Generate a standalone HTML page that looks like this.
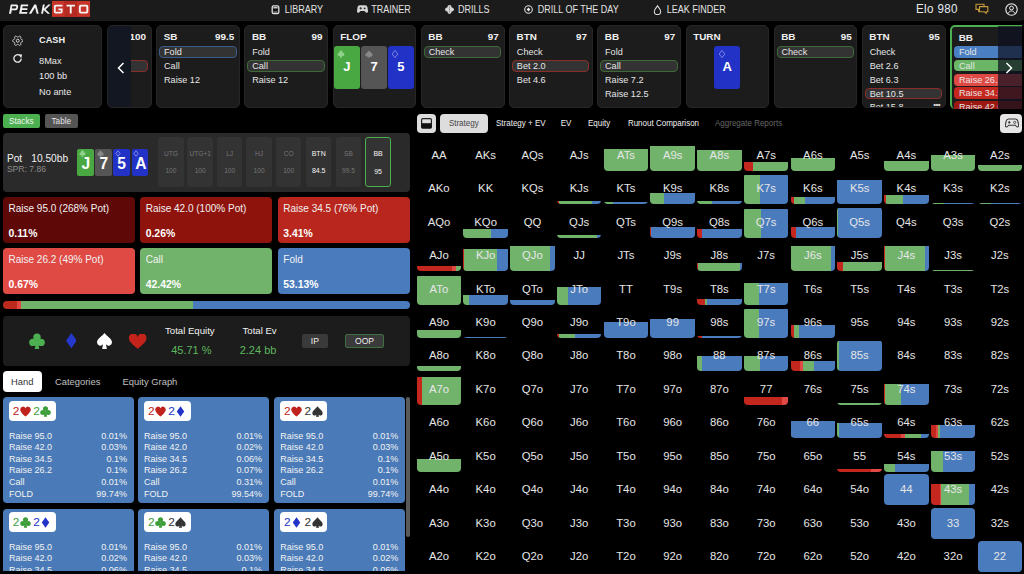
<!DOCTYPE html>
<html><head><meta charset="utf-8">
<style>
*{margin:0;padding:0;box-sizing:border-box}
html,body{width:1024px;height:574px;overflow:hidden;background:#000;font-family:"Liberation Sans",sans-serif;color:#e8e8e8}
.a{position:absolute}
#nav{position:absolute;left:0;top:0;width:1024px;height:21px;background:#1b1b1b}
.ni{position:absolute;top:0;height:20px;line-height:20px;font-size:9px;color:#e4e4e4;letter-spacing:0px;white-space:nowrap}
.ni svg{position:absolute;top:5px}
.ni span{display:inline-block;transform:scaleY(1.18);transform-origin:50% 55%}
.card{position:absolute;top:25.3px;width:83.8px;height:83px;background:#1c1c1c;border:1px solid #262626;border-radius:5px;overflow:hidden}
.hd{position:absolute;top:4.4px;left:6.5px;right:4.8px;height:12px;font-size:9.9px;font-weight:bold;line-height:12px;color:#f0f0f0}
.hd b{position:absolute;right:0;top:0}
.rw{position:absolute;left:2px;right:2.5px;height:11.8px;line-height:10.6px;font-size:9.1px;color:#e6e6e6;padding-left:3.8px;border:1px solid transparent;border-radius:4px;white-space:nowrap}
.pb{background:#333;border-color:#3b5d8e}
.pg{background:#333;border-color:#3c6b38}
.pr{background:#333;border-color:#8a2e2a}
.pc{position:absolute;top:20px;width:26px;height:42.3px;border-radius:3px;color:#fff;font-weight:bold;font-size:13px;text-align:center;line-height:42px}
.pc svg{position:absolute;left:3.5px;top:4px}
/* grid */
.c{position:absolute;width:44.5px;height:31.1px;border-radius:4px;overflow:hidden}
.c .f{position:absolute;left:0;right:0;bottom:0;display:flex}
.c .f i{display:block;height:100%}
.c span{position:absolute;left:0;right:0;top:0;height:31.1px;line-height:31px;text-align:center;font-size:11.3px;color:#e6e6e6}
/* tabs */
.tb{position:absolute;top:113.6px;height:19.3px;line-height:19px;font-size:8px;color:#f0f0f0;white-space:nowrap;transform:scaleY(1.1)}
/* left */
.sb{position:absolute;border-radius:4px}
.sb .t{position:absolute;left:5.8px;top:6.3px;font-size:10px;color:#f2f2f2;white-space:nowrap}
.sb .p{position:absolute;left:5.8px;top:31.5px;font-size:10.4px;font-weight:bold;color:#fff}
.pos{position:absolute;top:137.2px;width:25.6px;height:50.3px;background:#333;border-radius:3px;text-align:center;color:#767676;font-size:6.6px}
.pos u{text-decoration:none;position:absolute;left:0;right:0;top:12.5px}
.pos s{text-decoration:none;position:absolute;left:0;right:0;top:30.3px}
.hc{position:absolute;width:131px;height:105.6px;background:#4a7bb8;border-radius:4px;font-size:9px;color:#f2f2f2}
.hc .bd{position:absolute;left:5.9px;top:3.6px;width:47.2px;height:20px;background:#fff;border-radius:4px;font-size:11.8px;line-height:20.5px;white-space:nowrap}
.hc .ln{position:absolute;left:6px;right:7px;height:11px;line-height:11px}
.hc .ln b{font-weight:normal;position:absolute;right:0;top:0}
</style></head><body>
<div id="nav">
  <svg class="a" style="left:0;top:0" width="96" height="21" viewBox="0 0 96 21">
    <path fill="#f2f2f2" fill-rule="evenodd" d="M9 13.7L10.8 4.5H16.3C17.8 4.5 18.4 5.5 18.1 6.9L17.8 8.3C17.5 9.7 16.5 10.3 15.2 10.3H11.8L11.1 13.7ZM12.2 6.2L11.7 8.6H15.3C15.9 8.6 16.1 8.3 16.2 7.8L16.3 7C16.4 6.5 16.2 6.2 15.7 6.2Z"/>
    <path fill="#f2f2f2" d="M20.9 4.5H28.3L28 6.2H22.6L22.3 8.3H27.5L27.2 9.9H22L21.6 12H27.4L27.1 13.7H19.1Z"/>
    <path fill="#f2f2f2" d="M28.9 13.7L34.3 4.5H36.2L38.7 13.7H36.7L35.1 7.6L31.2 13.7Z"/>
    <path fill="#f2f2f2" d="M41.1 13.7L42.9 4.5H44.8L43 13.7ZM43.3 9.3L48.4 4.5H50.8L45.3 9.8ZM44.6 8.6L50.1 13.7H47.7L43.6 10.1Z"/>
    <rect x="52" y="0.9" width="38" height="16" fill="#c8342a"/>
    <rect x="64.2" y="0.9" width="13.1" height="16" fill="#b52b21"/>
    <path fill="#f4f4f4" fill-rule="evenodd" d="M55.9 4.7H62.5V6.5H56.3C55.9 6.5 55.7 6.7 55.7 7.1V11.2C55.7 11.6 55.9 11.8 56.3 11.8H60.2C60.6 11.8 60.8 11.6 60.8 11.2V10.3H58.4V8.6H62.6V11.6C62.6 12.8 61.9 13.6 60.7 13.6H55.8C54.6 13.6 53.9 12.8 53.9 11.6V6.7C53.9 5.5 54.6 4.7 55.9 4.7Z"/>
    <path fill="#f4f4f4" d="M66.5 4.7H75V6.5H71.7V13.6H69.8V6.5H66.5Z"/>
    <path fill="#f4f4f4" fill-rule="evenodd" d="M80.9 4.7H86.3C87.5 4.7 88.3 5.5 88.3 6.7V11.6C88.3 12.8 87.5 13.6 86.3 13.6H80.9C79.7 13.6 78.9 12.8 78.9 11.6V6.7C78.9 5.5 79.7 4.7 80.9 4.7ZM81.4 6.5C81 6.5 80.8 6.7 80.8 7.1V11.2C80.8 11.6 81 11.8 81.4 11.8H85.8C86.2 11.8 86.4 11.6 86.4 11.2V7.1C86.4 6.7 86.2 6.5 85.8 6.5Z"/>
  </svg>
  <div class="ni" style="left:271px"><svg width="9" height="10" viewBox="0 0 9 10" style="top:4.6px"><rect x="1.2" y="0.9" width="6.6" height="7.8" rx="1.4" fill="none" stroke="#e0e0e0" stroke-width="1.3"/><rect x="2.4" y="3.4" width="4.2" height="2.4" fill="#111"/><rect x="2.4" y="2.1" width="4.2" height="1.3" fill="#e0e0e0"/><rect x="2.4" y="6.6" width="4.2" height="0.9" fill="#bbb"/></svg><span style="position:absolute;left:13.7px">LIBRARY</span></div>
  <div class="ni" style="left:357px"><svg width="11" height="9" viewBox="0 0 11 9" style="top:4.9px"><path d="M2.8 .3h5.4c1.3 0 2 .8 2.3 2.1l.5 3.6c.2 1.6-1.4 2.4-2.4 1.3L7.5 6.1h-4L2.4 7.3C1.4 8.4-.2 7.6 0 6l.5-3.6C.8 1.1 1.5.3 2.8.3z" fill="#d4d4d4"/><path d="M2.6 3.3h2.2M3.7 2.2v2.2" stroke="#222" stroke-width=".9"/><circle cx="7.6" cy="3.3" r=".9" fill="#222"/></svg><span style="position:absolute;left:14.3px">TRAINER</span></div>
  <div class="ni" style="left:444.6px"><svg width="9" height="9" viewBox="0 0 9 9" style="top:4.6px"><circle cx="4.5" cy="2.2" r="2.1" fill="#d8d8d8"/><circle cx="4.5" cy="6.8" r="2.1" fill="#d8d8d8"/><circle cx="2.2" cy="4.5" r="2.1" fill="#d8d8d8"/><circle cx="6.8" cy="4.5" r="2.1" fill="#d8d8d8"/><rect x="4.2" y="1.2" width=".7" height="6.6" fill="#888"/></svg><span style="position:absolute;left:13.4px">DRILLS</span></div>
  <div class="ni" style="left:523.7px"><svg width="9" height="9" viewBox="0 0 9 9"><circle cx="4.5" cy="4.5" r="3.8" fill="none" stroke="#ddd" stroke-width="1.1"/><path d="M4.5 2.5L6.3 4.5 4.5 6.5 2.7 4.5z" fill="#eee"/></svg><span style="position:absolute;left:14.1px">DRILL OF THE DAY</span></div>
  <div class="ni" style="left:653px"><svg width="9" height="10" viewBox="0 0 9 10" style="top:4.5px"><path d="M4.5 .8C3 2.8 1.3 4.6 1.3 6.4a3.2 3.2 0 0 0 6.4 0C7.7 4.6 6 2.8 4.5 .8z" fill="none" stroke="#ddd" stroke-width="1.1"/></svg><span style="position:absolute;left:13.7px">LEAK FINDER</span></div>
  <div class="a" style="left:916px;top:1.6px;font-size:11.6px;line-height:14px;color:#eaeaea;letter-spacing:0.35px;transform:scaleY(1.05)">Elo <span style="color:#e4eaf2">980</span></div>
  <svg class="a" style="left:975px;top:3px" width="14" height="11" viewBox="0 0 14 11"><path d="M1 1.2h8v5.2H5.5L3.6 8.2V6.4H1z" fill="none" stroke="#c79a3a" stroke-width="1.1"/><path d="M4.5 3.6h8.3v5.2h-1.6v1.6L9.4 8.8H4.5z" fill="#1b1b1b" stroke="#c79a3a" stroke-width="1.1"/></svg>
  <svg class="a" style="left:1004.5px;top:2.5px" width="13" height="13" viewBox="0 0 13 13"><circle cx="6.5" cy="6.5" r="5.7" fill="none" stroke="#eee" stroke-width="1.1"/><circle cx="6.5" cy="5" r="1.9" fill="none" stroke="#eee" stroke-width="1"/><path d="M3 10.5c1-1.8 2.1-2.5 3.5-2.5s2.5.7 3.5 2.5" fill="none" stroke="#eee" stroke-width="1"/></svg>
</div>

<!-- action strip -->
<div class="card" style="left:2.6px;width:99.4px">
  <svg class="a" style="left:8.2px;top:8.6px" width="11.5" height="11.5" viewBox="0 0 11.5 11.5"><path d="M5.75 2.15 L5.99 2.12 L6.24 2.04 L6.52 1.90 L6.88 1.55 L7.28 1.23 L7.65 1.17 L7.99 1.21 L8.30 1.33 L8.56 1.54 L8.77 1.82 L8.90 2.16 L8.83 2.67 L8.70 3.16 L8.72 3.47 L8.77 3.73 L8.87 3.95 L9.01 4.14 L9.21 4.32 L9.47 4.49 L9.95 4.62 L10.43 4.82 L10.67 5.10 L10.80 5.42 L10.85 5.75 L10.80 6.08 L10.67 6.40 L10.43 6.68 L9.95 6.88 L9.47 7.01 L9.21 7.18 L9.01 7.36 L8.87 7.55 L8.77 7.77 L8.72 8.03 L8.70 8.34 L8.83 8.83 L8.90 9.34 L8.77 9.68 L8.56 9.96 L8.30 10.17 L7.99 10.29 L7.65 10.33 L7.28 10.27 L6.88 9.95 L6.52 9.60 L6.24 9.46 L5.99 9.38 L5.75 9.35 L5.51 9.38 L5.26 9.46 L4.98 9.60 L4.62 9.95 L4.22 10.27 L3.85 10.33 L3.51 10.29 L3.20 10.17 L2.94 9.96 L2.73 9.68 L2.60 9.34 L2.67 8.83 L2.80 8.34 L2.78 8.03 L2.73 7.77 L2.63 7.55 L2.49 7.36 L2.29 7.18 L2.03 7.01 L1.55 6.88 L1.07 6.68 L0.83 6.40 L0.70 6.08 L0.65 5.75 L0.70 5.42 L0.83 5.10 L1.07 4.82 L1.55 4.62 L2.03 4.49 L2.29 4.32 L2.49 4.14 L2.63 3.95 L2.73 3.73 L2.78 3.47 L2.80 3.16 L2.67 2.67 L2.60 2.16 L2.73 1.82 L2.94 1.54 L3.20 1.33 L3.51 1.21 L3.85 1.17 L4.22 1.23 L4.62 1.55 L4.98 1.90 L5.26 2.04 L5.51 2.12 L5.75 2.15Z" fill="none" stroke="#ddd" stroke-width="0.95" stroke-linejoin="round"/><circle cx="5.75" cy="5.75" r="1.5" fill="none" stroke="#ddd" stroke-width="0.95"/></svg>
  <svg class="a" style="left:9px;top:27.3px" width="10" height="9" viewBox="0 0 10 9"><path d="M8.3 4.6A3.7 3.7 0 1 1 6.6 1.3" fill="none" stroke="#e6e6e6" stroke-width="1.3"/><path d="M5.2 0.2L9.2 0.6 8.2 4.2z" fill="#e6e6e6"/></svg>
  <div class="a" style="left:35.5px;top:9px;font-size:9.2px;font-weight:bold;color:#f0f0f0">CASH</div>
  <div class="a" style="left:35.5px;top:30px;font-size:9.2px;color:#eaeaea">8Max</div>
  <div class="a" style="left:35.5px;top:45px;font-size:9.2px;color:#eaeaea">100 bb</div>
  <div class="a" style="left:35.5px;top:60.5px;font-size:9.2px;color:#eaeaea">No ante</div>
</div>
<div class="card" style="left:106.6px;width:45.1px">
  <div class="hd"><b>100</b></div>
  <div class="rw pr" style="top:33.5px"></div>
  <div class="a" style="left:0;top:0;width:23.2px;height:83px;background:#131722"></div>
  <svg class="a" style="left:9.5px;top:35.5px" width="8" height="12" viewBox="0 0 8 12"><path d="M6.5 1L1.5 6l5 5" fill="none" stroke="#fff" stroke-width="1.5"/></svg>
</div>
<div class="card" style="left:156.25px">
  <div class="hd">SB<b>99.5</b></div>
  <div class="rw pb" style="top:19.5px">Fold</div>
  <div class="rw" style="top:33.5px">Call</div>
  <div class="rw" style="top:47.4px">Raise 12</div>
</div>
<div class="card" style="left:244.45px">
  <div class="hd">BB<b>99</b></div>
  <div class="rw" style="top:19.5px">Fold</div>
  <div class="rw pg" style="top:33.5px">Call</div>
  <div class="rw" style="top:47.4px">Raise 12</div>
</div>
<div class="card" style="left:332.65px">
  <div class="hd">FLOP</div>
  <div class="pc" style="left:0.3px;background:#4aa843"><svg width="8" height="8" viewBox="0 0 10 10"><path d="M5 .5a2 2 0 0 1 1.8 2.9A2.1 2.1 0 1 1 6 7.2L6.6 9.5H3.4L4 7.2A2.1 2.1 0 1 1 3.2 3.4 2 2 0 0 1 5 .5z" fill="#8fd18a"/></svg>J</div>
  <div class="pc" style="left:27.6px;background:#555"><svg width="8" height="8" viewBox="0 0 10 10"><path d="M5 .5C6.5 2.5 9.5 4 9.5 6.3a2.1 2.1 0 0 1-3.6 1.4L6.6 9.5H3.4l.7-1.8A2.1 2.1 0 0 1 .5 6.3C.5 4 3.5 2.5 5 .5z" fill="#888"/></svg>7</div>
  <div class="pc" style="left:54.2px;background:#2232c6"><svg width="8" height="8" viewBox="0 0 10 10"><path d="M5 .5L8.5 5 5 9.5 1.5 5z" fill="none" stroke="#8f98e8" stroke-width="1"/></svg>5</div>
</div>
<div class="card" style="left:420.85px">
  <div class="hd">BB<b>97</b></div>
  <div class="rw pg" style="top:19.5px">Check</div>
</div>
<div class="card" style="left:509.05px">
  <div class="hd">BTN<b>97</b></div>
  <div class="rw" style="top:19.5px">Check</div>
  <div class="rw pr" style="top:33.5px">Bet 2.0</div>
  <div class="rw" style="top:47.4px">Bet 4.6</div>
</div>
<div class="card" style="left:597.25px">
  <div class="hd">BB<b>97</b></div>
  <div class="rw" style="top:19.5px">Fold</div>
  <div class="rw pg" style="top:33.5px">Call</div>
  <div class="rw" style="top:47.4px">Raise 7.2</div>
  <div class="rw" style="top:61.3px">Raise 12.5</div>
</div>
<div class="card" style="left:685.7px">
  <div class="hd">TURN</div>
  <div class="pc" style="left:27.6px;background:#2232c6"><svg width="8" height="8" viewBox="0 0 10 10"><path d="M5 .5L8.5 5 5 9.5 1.5 5z" fill="none" stroke="#8f98e8" stroke-width="1"/></svg>A</div>
</div>
<div class="card" style="left:773.65px">
  <div class="hd">BB<b>95</b></div>
  <div class="rw pg" style="top:19.5px">Check</div>
</div>
<div class="card" style="left:861.85px">
  <div class="hd">BTN<b>95</b></div>
  <div class="rw" style="top:19.5px">Check</div>
  <div class="rw" style="top:33.5px">Bet 2.6</div>
  <div class="rw" style="top:47.4px">Bet 6.3</div>
  <div class="rw pr" style="top:61.3px">Bet 10.5</div>
  <div class="rw" style="top:75.2px">Bet 15.8</div>
  <div class="a" style="right:4.5px;top:74px;font-size:8px;font-weight:bold;color:#ddd;letter-spacing:-0.5px">•••</div>
</div>
<div class="card" style="left:950.2px;width:90px;height:83.7px;border:2px solid #4caf50;border-bottom:none;border-radius:5px 5px 0 5px">
  <div class="hd" style="left:6.5px;top:5px">BB</div>
  <div class="rw" style="top:18.5px;left:2px;right:10px;background:#4a7fc2"><span style="display:block;width:39.5px;overflow:hidden">Fold</span></div>
  <div class="rw" style="top:32.4px;left:2px;right:10px;background:#6ab566"><span style="display:block;width:39.5px;overflow:hidden">Call</span></div>
  <div class="rw" style="top:46.5px;left:2px;right:10px;background:#e04a45"><span style="display:block;width:39.5px;overflow:hidden">Raise 26.2</span></div>
  <div class="rw" style="top:60.1px;left:2px;right:10px;background:#c4271d"><span style="display:block;width:39.5px;overflow:hidden">Raise 34.5</span></div>
  <div class="rw" style="top:74px;left:2px;right:10px;background:#9c1810"><span style="display:block;width:39.5px;overflow:hidden">Raise 42.0</span></div>
</div>
<div class="a" style="left:997.7px;top:25.5px;width:24.3px;height:83.5px;background:rgba(14,18,32,0.72)"></div>
<div class="a" style="left:1022px;top:20px;width:2px;height:93px;background:#000"></div>
<svg class="a" style="left:1005.2px;top:61.5px" width="8" height="12" viewBox="0 0 8 12"><path d="M1.5 1l5 5-5 5" fill="none" stroke="#fff" stroke-width="1.5"/></svg>

<!-- stacks / table -->
<div class="a" style="left:2.7px;top:113.9px;width:37.3px;height:14.6px;background:#4caf50;border-radius:2px;font-size:8.2px;line-height:16px;text-align:center;color:#f4f4f4">Stacks</div>
<div class="a" style="left:45px;top:113.9px;width:32.6px;height:14.6px;background:#555;border-radius:2px;font-size:8.2px;line-height:16px;text-align:center;color:#e4e4e4">Table</div>

<!-- pot panel -->
<div class="a" style="left:2.8px;top:133.1px;width:407.2px;height:59px;background:#2a2a2a;border-radius:4px"></div>
<div class="a" style="left:6.9px;top:152.5px;font-size:10.2px;color:#f0f0f0;white-space:nowrap">Pot<span style="position:absolute;left:24.4px">10.50bb</span></div>
<div class="a" style="left:6.9px;top:163.5px;font-size:8.6px;color:#8a8a8a;white-space:nowrap">SPR: 7.86</div>
<div class="a" style="left:77px;top:148.7px;width:16.8px;height:27.8px;background:#4aa843;border-radius:2px"></div>
<div class="a" style="left:95px;top:148.7px;width:16.9px;height:27.8px;background:#555;border-radius:2px"></div>
<div class="a" style="left:113.4px;top:148.7px;width:16.6px;height:27.8px;background:#2232c6;border-radius:2px"></div>
<div class="a" style="left:131.6px;top:148.7px;width:16.5px;height:27.8px;background:#2232c6;border-radius:2px"></div>
<div class="a" style="left:77px;top:150.6px;width:71px;height:25px;font-size:15.6px;font-weight:bold;color:#fff;line-height:25px;white-space:nowrap">
  <span style="position:absolute;left:4.6px">J</span><span style="position:absolute;left:22.5px">7</span><span style="position:absolute;left:40.3px">5</span><span style="position:absolute;left:58.3px">A</span>
</div>
<svg class="a" style="left:79px;top:150px" width="7" height="7" viewBox="0 0 10 10"><path d="M5 .5a2 2 0 0 1 1.8 2.9A2.1 2.1 0 1 1 6 7.2L6.6 9.5H3.4L4 7.2A2.1 2.1 0 1 1 3.2 3.4 2 2 0 0 1 5 .5z" fill="#8fd18a"/></svg>
<svg class="a" style="left:97px;top:150px" width="7" height="7" viewBox="0 0 10 10"><path d="M5 .5C6.5 2.5 9.5 4 9.5 6.3a2.1 2.1 0 0 1-3.6 1.4L6.6 9.5H3.4l.7-1.8A2.1 2.1 0 0 1 .5 6.3C.5 4 3.5 2.5 5 .5z" fill="#888"/></svg>
<svg class="a" style="left:115px;top:150px" width="6" height="7" viewBox="0 0 10 10"><path d="M5 .5L8.5 5 5 9.5 1.5 5z" fill="none" stroke="#a0a8ee" stroke-width="1.2"/></svg>
<svg class="a" style="left:133px;top:150px" width="6" height="7" viewBox="0 0 10 10"><path d="M5 .5L8.5 5 5 9.5 1.5 5z" fill="none" stroke="#a0a8ee" stroke-width="1.2"/></svg>
<div class="pos" style="left:158.1px"><u>UTG</u><s>100</s></div>
<div class="pos" style="left:187.4px"><u>UTG+1</u><s>100</s></div>
<div class="pos" style="left:216.9px"><u>LJ</u><s>100</s></div>
<div class="pos" style="left:246.3px"><u>HJ</u><s>100</s></div>
<div class="pos" style="left:275.9px"><u>CO</u><s>100</s></div>
<div class="pos" style="left:305.9px;color:#f4f4f4;font-size:7px"><u>BTN</u><s>84.5</s></div>
<div class="pos" style="left:335.6px"><u>SB</u><s>99.5</s></div>
<div class="pos" style="left:365.3px;border:1.6px solid #4caf50;color:#f4f4f4;font-size:7px"><u style="top:11.8px">BB</u><s style="top:29.4px">95</s></div>

<!-- strategy boxes -->
<div class="sb" style="left:2.7px;top:196.8px;width:132.8px;height:45.8px;background:#5e0808"><div class="t">Raise 95.0 (268% Pot)</div><div class="p">0.11%</div></div>
<div class="sb" style="left:139.9px;top:196.8px;width:132.6px;height:45.8px;background:#8e130c"><div class="t">Raise 42.0 (100% Pot)</div><div class="p">0.26%</div></div>
<div class="sb" style="left:277.5px;top:196.8px;width:132.9px;height:45.8px;background:#b8261d"><div class="t">Raise 34.5 (76% Pot)</div><div class="p">3.41%</div></div>
<div class="sb" style="left:2.7px;top:247.9px;width:132.8px;height:45.9px;background:#e04a45"><div class="t">Raise 26.2 (49% Pot)</div><div class="p">0.67%</div></div>
<div class="sb" style="left:139.9px;top:247.9px;width:132.6px;height:45.9px;background:#72b36c"><div class="t">Call</div><div class="p">42.42%</div></div>
<div class="sb" style="left:277.5px;top:247.9px;width:132.9px;height:45.9px;background:#4a7bbd"><div class="t">Fold</div><div class="p">53.13%</div></div>
<div class="a" style="left:2.7px;top:300.6px;width:407.7px;height:8.4px;border-radius:4px;overflow:hidden;display:flex">
  <i style="display:block;width:14.4px;background:#bc2a1e"></i><i style="display:block;width:3.5px;background:#e04a45"></i><i style="display:block;width:172.3px;background:#72b36c"></i><i style="display:block;flex:1;background:#4a7bbd"></i>
</div>

<!-- equity panel -->
<div class="a" style="left:3px;top:316.3px;width:406.5px;height:49.3px;background:#1c1c1c;border-radius:4px"></div>
<svg class="a" style="left:29px;top:332.7px" width="16" height="16.5" viewBox="0 0 16 16.5"><circle cx="8" cy="4.2" r="3.7" fill="#4caf50"/><circle cx="3.9" cy="9.4" r="3.7" fill="#4caf50"/><circle cx="12.1" cy="9.4" r="3.7" fill="#4caf50"/><path d="M7 8h2l1.3 8.3H5.7z" fill="#4caf50"/></svg>
<svg class="a" style="left:65.6px;top:333.3px" width="10.8" height="15.3" viewBox="0 0 10.8 15.3"><path d="M5.4 0L10.8 7.65 5.4 15.3 0 7.65z" fill="#2638cc"/></svg>
<svg class="a" style="left:96.8px;top:333px" width="15" height="16" viewBox="0 0 15 16"><path d="M7.5 0C9.5 3 15 5.8 15 9.3a3.3 3.3 0 0 1-6 1.9L9.8 16H5.2L6 11.2a3.3 3.3 0 0 1-6-1.9C0 5.8 5.5 3 7.5 0z" fill="#fff"/></svg>
<svg class="a" style="left:129.2px;top:333.7px" width="17.4" height="15" viewBox="0 0 17.4 15"><path d="M8.7 15C6 12 0 8.5 0 4.5A4.4 4.4 0 0 1 8.7 3 4.4 4.4 0 0 1 17.4 4.5C17.4 8.5 11.4 12 8.7 15z" fill="#c4231b"/></svg>
<div class="a" style="left:165px;top:324.5px;font-size:9.6px;color:#f2f2f2;white-space:nowrap">Total Equity</div>
<div class="a" style="left:171.2px;top:344px;font-size:11px;color:#5cb85c;white-space:nowrap">45.71 %</div>
<div class="a" style="left:242.5px;top:324.5px;font-size:9.6px;color:#f2f2f2;white-space:nowrap">Total Ev</div>
<div class="a" style="left:239.7px;top:344px;font-size:11px;color:#5cb85c;white-space:nowrap">2.24 bb</div>
<div class="a" style="left:301.6px;top:334px;width:26.6px;height:14px;background:#3a3a3a;border-radius:2px;font-size:8.6px;line-height:14px;text-align:center;color:#eee">IP</div>
<div class="a" style="left:345px;top:334px;width:39.1px;height:14px;background:#3a3a3a;border:1px solid #3f6e3f;border-radius:2px;font-size:8.6px;line-height:12px;text-align:center;color:#eee">OOP</div>

<!-- hand tabs -->
<div class="a" style="left:2.5px;top:371px;width:39.5px;height:21.2px;background:#fff;border-radius:4px;font-size:9.4px;line-height:21px;text-align:center;color:#333">Hand</div>
<div class="a" style="left:55px;top:376px;font-size:9.4px;color:#c0c0c0;white-space:nowrap">Categories</div>
<div class="a" style="left:122.6px;top:376px;font-size:9.4px;color:#c0c0c0;white-space:nowrap">Equity Graph</div>

<!-- hand cards -->
<div class="a" style="left:0;top:397px;width:412px;height:174px;overflow:hidden;border-radius:0 0 0 4px">
<div class="hc" style="left:2.9px;top:0.3px"><div class="bd"><span style="position:absolute;left:4.0px;top:0;color:#c0231b">2</span><svg style="position:absolute;left:11.2px;top:5px" width="11" height="11" viewBox="0 0 10 10" fill="#c0231b"><path d="M5 9.6C3.4 8 .2 5.8 .2 3.1A2.5 2.5 0 0 1 5 2.1 2.5 2.5 0 0 1 9.8 3.1C9.8 5.8 6.6 8 5 9.6z"/></svg><span style="position:absolute;left:24.4px;top:0;color:#3e9e3a">2</span><svg style="position:absolute;left:31.6px;top:5px" width="11" height="11" viewBox="0 0 10 10" fill="#3e9e3a"><circle cx="5" cy="2.6" r="2.3"/><circle cx="2.5" cy="5.9" r="2.3"/><circle cx="7.5" cy="5.9" r="2.3"/><path d="M4.4 5h1.2l.9 4.8H3.5z"/></svg></div><div class="ln" style="top:33.3px">Raise 95.0<b>0.01%</b></div><div class="ln" style="top:44.9px">Raise 42.0<b>0.03%</b></div><div class="ln" style="top:56.5px">Raise 34.5<b>0.1%</b></div><div class="ln" style="top:68.1px">Raise 26.2<b>0.1%</b></div><div class="ln" style="top:79.7px">Call<b>0.01%</b></div><div class="ln" style="top:91.3px">FOLD<b>99.74%</b></div></div>
<div class="hc" style="left:138px;top:0.3px"><div class="bd"><span style="position:absolute;left:4.0px;top:0;color:#c0231b">2</span><svg style="position:absolute;left:11.2px;top:5px" width="11" height="11" viewBox="0 0 10 10" fill="#c0231b"><path d="M5 9.6C3.4 8 .2 5.8 .2 3.1A2.5 2.5 0 0 1 5 2.1 2.5 2.5 0 0 1 9.8 3.1C9.8 5.8 6.6 8 5 9.6z"/></svg><span style="position:absolute;left:24.4px;top:0;color:#2233c8">2</span><svg style="position:absolute;left:31.6px;top:5px" width="11" height="11" viewBox="0 0 10 10" fill="#2233c8"><path d="M5 .2L8.4 5 5 9.8 1.6 5z"/></svg></div><div class="ln" style="top:33.3px">Raise 95.0<b>0.01%</b></div><div class="ln" style="top:44.9px">Raise 42.0<b>0.02%</b></div><div class="ln" style="top:56.5px">Raise 34.5<b>0.06%</b></div><div class="ln" style="top:68.1px">Raise 26.2<b>0.07%</b></div><div class="ln" style="top:79.7px">Call<b>0.31%</b></div><div class="ln" style="top:91.3px">FOLD<b>99.54%</b></div></div>
<div class="hc" style="left:274.2px;top:0.3px"><div class="bd"><span style="position:absolute;left:4.0px;top:0;color:#c0231b">2</span><svg style="position:absolute;left:11.2px;top:5px" width="11" height="11" viewBox="0 0 10 10" fill="#c0231b"><path d="M5 9.6C3.4 8 .2 5.8 .2 3.1A2.5 2.5 0 0 1 5 2.1 2.5 2.5 0 0 1 9.8 3.1C9.8 5.8 6.6 8 5 9.6z"/></svg><span style="position:absolute;left:24.4px;top:0;color:#333">2</span><svg style="position:absolute;left:31.6px;top:5px" width="11" height="11" viewBox="0 0 10 10" fill="#333"><path d="M5 .2C6.4 2.3 9.7 4.2 9.7 6.5a2.2 2.2 0 0 1-3.8 1.5L6.5 9.8H3.5L4.1 8A2.2 2.2 0 0 1 .3 6.5C.3 4.2 3.6 2.3 5 .2z"/></svg></div><div class="ln" style="top:33.3px">Raise 95.0<b>0.01%</b></div><div class="ln" style="top:44.9px">Raise 42.0<b>0.03%</b></div><div class="ln" style="top:56.5px">Raise 34.5<b>0.1%</b></div><div class="ln" style="top:68.1px">Raise 26.2<b>0.1%</b></div><div class="ln" style="top:79.7px">Call<b>0.01%</b></div><div class="ln" style="top:91.3px">FOLD<b>99.74%</b></div></div>
<div class="hc" style="left:2.9px;top:111.6px"><div class="bd"><span style="position:absolute;left:4.0px;top:0;color:#3e9e3a">2</span><svg style="position:absolute;left:11.2px;top:5px" width="11" height="11" viewBox="0 0 10 10" fill="#3e9e3a"><circle cx="5" cy="2.6" r="2.3"/><circle cx="2.5" cy="5.9" r="2.3"/><circle cx="7.5" cy="5.9" r="2.3"/><path d="M4.4 5h1.2l.9 4.8H3.5z"/></svg><span style="position:absolute;left:24.4px;top:0;color:#2233c8">2</span><svg style="position:absolute;left:31.6px;top:5px" width="11" height="11" viewBox="0 0 10 10" fill="#2233c8"><path d="M5 .2L8.4 5 5 9.8 1.6 5z"/></svg></div><div class="ln" style="top:33.3px">Raise 95.0<b>0.01%</b></div><div class="ln" style="top:44.9px">Raise 42.0<b>0.02%</b></div><div class="ln" style="top:56.5px">Raise 34.5<b>0.06%</b></div><div class="ln" style="top:68.1px">Raise 26.2<b>0.07%</b></div><div class="ln" style="top:79.7px">Call<b>0.31%</b></div><div class="ln" style="top:91.3px">FOLD<b>99.54%</b></div></div>
<div class="hc" style="left:138px;top:111.6px"><div class="bd"><span style="position:absolute;left:4.0px;top:0;color:#3e9e3a">2</span><svg style="position:absolute;left:11.2px;top:5px" width="11" height="11" viewBox="0 0 10 10" fill="#3e9e3a"><circle cx="5" cy="2.6" r="2.3"/><circle cx="2.5" cy="5.9" r="2.3"/><circle cx="7.5" cy="5.9" r="2.3"/><path d="M4.4 5h1.2l.9 4.8H3.5z"/></svg><span style="position:absolute;left:24.4px;top:0;color:#333">2</span><svg style="position:absolute;left:31.6px;top:5px" width="11" height="11" viewBox="0 0 10 10" fill="#333"><path d="M5 .2C6.4 2.3 9.7 4.2 9.7 6.5a2.2 2.2 0 0 1-3.8 1.5L6.5 9.8H3.5L4.1 8A2.2 2.2 0 0 1 .3 6.5C.3 4.2 3.6 2.3 5 .2z"/></svg></div><div class="ln" style="top:33.3px">Raise 95.0<b>0.01%</b></div><div class="ln" style="top:44.9px">Raise 42.0<b>0.03%</b></div><div class="ln" style="top:56.5px">Raise 34.5<b>0.1%</b></div><div class="ln" style="top:68.1px">Raise 26.2<b>0.1%</b></div><div class="ln" style="top:79.7px">Call<b>0.01%</b></div><div class="ln" style="top:91.3px">FOLD<b>99.74%</b></div></div>
<div class="hc" style="left:274.2px;top:111.6px"><div class="bd"><span style="position:absolute;left:4.0px;top:0;color:#2233c8">2</span><svg style="position:absolute;left:11.2px;top:5px" width="11" height="11" viewBox="0 0 10 10" fill="#2233c8"><path d="M5 .2L8.4 5 5 9.8 1.6 5z"/></svg><span style="position:absolute;left:24.4px;top:0;color:#333">2</span><svg style="position:absolute;left:31.6px;top:5px" width="11" height="11" viewBox="0 0 10 10" fill="#333"><path d="M5 .2C6.4 2.3 9.7 4.2 9.7 6.5a2.2 2.2 0 0 1-3.8 1.5L6.5 9.8H3.5L4.1 8A2.2 2.2 0 0 1 .3 6.5C.3 4.2 3.6 2.3 5 .2z"/></svg></div><div class="ln" style="top:33.3px">Raise 95.0<b>0.01%</b></div><div class="ln" style="top:44.9px">Raise 42.0<b>0.02%</b></div><div class="ln" style="top:56.5px">Raise 34.5<b>0.06%</b></div><div class="ln" style="top:68.1px">Raise 26.2<b>0.07%</b></div><div class="ln" style="top:79.7px">Call<b>0.31%</b></div><div class="ln" style="top:91.3px">FOLD<b>99.54%</b></div></div>
<div class="a" style="left:406.2px;top:0;width:4.2px;height:140px;background:#5a5a5a;border-radius:2px"></div>
</div>

<!-- strategy tabs -->
<div class="a" style="left:416.6px;top:113.6px;width:19.8px;height:19.3px;background:#ddd;border-radius:4px"></div>
<svg class="a" style="left:421px;top:117.5px" width="11" height="11" viewBox="0 0 11 11"><rect x=".6" y=".6" width="9.8" height="9.6" rx="1.2" fill="none" stroke="#222" stroke-width="1.2"/><rect x=".6" y="5.2" width="9.8" height="5" fill="#111"/></svg>
<div class="a" style="left:440px;top:113.6px;width:47.6px;height:19.3px;background:#ddd;border-radius:4px"></div><div class="tb" style="left:440px;width:47.6px;color:#454545;text-align:center">Strategy</div>
<div class="tb" style="left:496px">Strategy + EV</div>
<div class="tb" style="left:560.7px">EV</div>
<div class="tb" style="left:588px">Equity</div>
<div class="tb" style="left:627.9px">Runout Comparison</div>
<div class="tb" style="left:715px;color:#666">Aggregate Reports</div>
<div class="a" style="left:1000.4px;top:113.5px;width:21.6px;height:19.5px;background:#e6e6e6;border-radius:4px"></div>
<svg class="a" style="left:1004.5px;top:118.2px" width="14" height="10.5" viewBox="0 0 14 10.5"><path d="M3.5 1h7c1.3 0 2 .9 2.4 2.4l.8 4c.2 1.4-1.3 2.1-2.2 1.1L10.3 7.2H3.7L2.5 8.5C1.6 9.5.1 8.8.3 7.4l.8-4C1.5 1.9 2.2 1 3.5 1z" fill="none" stroke="#333" stroke-width="1.1"/><circle cx="4.3" cy="4.4" r="1.1" fill="#222"/><circle cx="9.7" cy="4.4" r="1.1" fill="none" stroke="#333" stroke-width=".8"/></svg>

<!-- grid -->
<div class="a" style="left:0;top:0;width:1024px;height:574px">
<div class="c" style="left:416.7px;top:139.9px"><span>AA</span></div>
<div class="c" style="left:463.4px;top:139.9px"><span>AKs</span></div>
<div class="c" style="left:510.2px;top:139.9px"><span>AQs</span></div>
<div class="c" style="left:556.9px;top:139.9px"><span>AJs</span></div>
<div class="c" style="left:603.7px;top:139.9px"><b class="f" style="height:22.1px"><i style="flex:1;background:#72b36c"></i></b><span>ATs</span></div>
<div class="c" style="left:650.4px;top:139.9px"><b class="f" style="height:25.1px"><i style="flex:1;background:#72b36c"></i></b><span>A9s</span></div>
<div class="c" style="left:697.1px;top:139.9px"><b class="f" style="height:21.0px"><i style="flex:1;background:#72b36c"></i></b><span>A8s</span></div>
<div class="c" style="left:743.9px;top:139.9px"><b class="f" style="height:8.5px"><i style="flex:0.2;background:#c4271d"></i><i style="flex:0.8;background:#72b36c"></i></b><span>A7s</span></div>
<div class="c" style="left:790.6px;top:139.9px"><b class="f" style="height:12.7px"><i style="flex:1;background:#72b36c"></i></b><span>A6s</span></div>
<div class="c" style="left:837.4px;top:139.9px"><span>A5s</span></div>
<div class="c" style="left:884.1px;top:139.9px"><b class="f" style="height:10.0px"><i style="flex:1;background:#72b36c"></i></b><span>A4s</span></div>
<div class="c" style="left:930.8px;top:139.9px"><b class="f" style="height:16.0px"><i style="flex:1;background:#72b36c"></i></b><span>A3s</span></div>
<div class="c" style="left:977.6px;top:139.9px"><b class="f" style="height:6.0px"><i style="flex:1;background:#72b36c"></i></b><span>A2s</span></div>
<div class="c" style="left:416.7px;top:173.3px"><span>AKo</span></div>
<div class="c" style="left:463.4px;top:173.3px"><span>KK</span></div>
<div class="c" style="left:510.2px;top:173.3px"><span>KQs</span></div>
<div class="c" style="left:556.9px;top:173.3px"><b class="f" style="height:3.0px"><i style="flex:0.05;background:#c4271d"></i><i style="flex:0.75;background:#72b36c"></i><i style="flex:0.2;background:#4a7bbd"></i></b><span>KJs</span></div>
<div class="c" style="left:603.7px;top:173.3px"><b class="f" style="height:2.0px"><i style="flex:0.2;background:#72b36c"></i><i style="flex:0.8;background:#4a7bbd"></i></b><span>KTs</span></div>
<div class="c" style="left:650.4px;top:173.3px"><b class="f" style="height:11.0px"><i style="flex:0.3;background:#72b36c"></i><i style="flex:0.7;background:#4a7bbd"></i></b><span>K9s</span></div>
<div class="c" style="left:697.1px;top:173.3px"><b class="f" style="height:3.5px"><i style="flex:0.33;background:#72b36c"></i><i style="flex:0.67;background:#4a7bbd"></i></b><span>K8s</span></div>
<div class="c" style="left:743.9px;top:173.3px"><b class="f" style="height:29.3px"><i style="flex:0.36;background:#72b36c"></i><i style="flex:0.64;background:#4a7bbd"></i></b><span>K7s</span></div>
<div class="c" style="left:790.6px;top:173.3px"><b class="f" style="height:7.5px"><i style="flex:0.08;background:#c4271d"></i><i style="flex:0.25;background:#72b36c"></i><i style="flex:0.67;background:#4a7bbd"></i></b><span>K6s</span></div>
<div class="c" style="left:837.4px;top:173.3px"><b class="f" style="height:24.0px"><i style="flex:1;background:#4a7bbd"></i></b><span>K5s</span></div>
<div class="c" style="left:884.1px;top:173.3px"><b class="f" style="height:9.0px"><i style="flex:0.04;background:#c4271d"></i><i style="flex:0.38;background:#72b36c"></i><i style="flex:0.58;background:#4a7bbd"></i></b><span>K4s</span></div>
<div class="c" style="left:930.8px;top:173.3px"><b class="f" style="height:1.0px"><i style="flex:0.3;background:#72b36c"></i><i style="flex:0.7;background:#4a7bbd"></i></b><span>K3s</span></div>
<div class="c" style="left:977.6px;top:173.3px"><b class="f" style="height:1.0px"><i style="flex:0.3;background:#72b36c"></i><i style="flex:0.7;background:#4a7bbd"></i></b><span>K2s</span></div>
<div class="c" style="left:416.7px;top:206.7px"><span>AQo</span></div>
<div class="c" style="left:463.4px;top:206.7px"><b class="f" style="height:9.0px"><i style="flex:0.62;background:#72b36c"></i><i style="flex:0.38;background:#4a7bbd"></i></b><span>KQo</span></div>
<div class="c" style="left:510.2px;top:206.7px"><span>QQ</span></div>
<div class="c" style="left:556.9px;top:206.7px"><b class="f" style="height:2.5px"><i style="flex:0.9;background:#72b36c"></i><i style="flex:0.1;background:#4a7bbd"></i></b><span>QJs</span></div>
<div class="c" style="left:603.7px;top:206.7px"><span>QTs</span></div>
<div class="c" style="left:650.4px;top:206.7px"><b class="f" style="height:11.0px"><i style="flex:0.02;background:#c4271d"></i><i style="flex:0.98;background:#4a7bbd"></i></b><span>Q9s</span></div>
<div class="c" style="left:697.1px;top:206.7px"><b class="f" style="height:8.5px"><i style="flex:0.11;background:#c4271d"></i><i style="flex:0.89;background:#4a7bbd"></i></b><span>Q8s</span></div>
<div class="c" style="left:743.9px;top:206.7px"><b class="f" style="height:29.0px"><i style="flex:0.38;background:#72b36c"></i><i style="flex:0.62;background:#4a7bbd"></i></b><span>Q7s</span></div>
<div class="c" style="left:790.6px;top:206.7px"><b class="f" style="height:10.4px"><i style="flex:0.12;background:#c4271d"></i><i style="flex:0.88;background:#4a7bbd"></i></b><span>Q6s</span></div>
<div class="c" style="left:837.4px;top:206.7px"><b class="f" style="height:30.0px"><i style="flex:0.02;background:#72b36c"></i><i style="flex:0.98;background:#4a7bbd"></i></b><span>Q5s</span></div>
<div class="c" style="left:884.1px;top:206.7px"><span>Q4s</span></div>
<div class="c" style="left:930.8px;top:206.7px"><span>Q3s</span></div>
<div class="c" style="left:977.6px;top:206.7px"><span>Q2s</span></div>
<div class="c" style="left:416.7px;top:240.2px"><b class="f" style="height:5.6px"><i style="flex:0.79;background:#c4271d"></i><i style="flex:0.1;background:#e04a45"></i><i style="flex:0.11;background:#72b36c"></i></b><span>AJo</span></div>
<div class="c" style="left:463.4px;top:240.2px"><b class="f" style="height:22.4px"><i style="flex:0.02;background:#c4271d"></i><i style="flex:0.74;background:#72b36c"></i><i style="flex:0.24;background:#4a7bbd"></i></b><span>KJo</span></div>
<div class="c" style="left:510.2px;top:240.2px"><b class="f" style="height:25.4px"><i style="flex:0.89;background:#72b36c"></i><i style="flex:0.11;background:#4a7bbd"></i></b><span>QJo</span></div>
<div class="c" style="left:556.9px;top:240.2px"><span>JJ</span></div>
<div class="c" style="left:603.7px;top:240.2px"><span>JTs</span></div>
<div class="c" style="left:650.4px;top:240.2px"><span>J9s</span></div>
<div class="c" style="left:697.1px;top:240.2px"><b class="f" style="height:8.0px"><i style="flex:0.01;background:#c4271d"></i><i style="flex:0.95;background:#72b36c"></i><i style="flex:0.04;background:#4a7bbd"></i></b><span>J8s</span></div>
<div class="c" style="left:743.9px;top:240.2px"><span>J7s</span></div>
<div class="c" style="left:790.6px;top:240.2px"><b class="f" style="height:25.4px"><i style="flex:0.01;background:#c4271d"></i><i style="flex:0.9;background:#72b36c"></i><i style="flex:0.09;background:#4a7bbd"></i></b><span>J6s</span></div>
<div class="c" style="left:837.4px;top:240.2px"><b class="f" style="height:9.7px"><i style="flex:0.12;background:#c4271d"></i><i style="flex:0.88;background:#72b36c"></i></b><span>J5s</span></div>
<div class="c" style="left:884.1px;top:240.2px"><b class="f" style="height:25.4px"><i style="flex:0.01;background:#c4271d"></i><i style="flex:0.92;background:#72b36c"></i><i style="flex:0.07;background:#4a7bbd"></i></b><span>J4s</span></div>
<div class="c" style="left:930.8px;top:240.2px"><b class="f" style="height:1.0px"><i style="flex:1;background:#72b36c"></i></b><span>J3s</span></div>
<div class="c" style="left:977.6px;top:240.2px"><span>J2s</span></div>
<div class="c" style="left:416.7px;top:273.6px"><b class="f" style="height:29.0px"><i style="flex:1;background:#72b36c"></i></b><span>ATo</span></div>
<div class="c" style="left:463.4px;top:273.6px"><b class="f" style="height:9.7px"><i style="flex:0.12;background:#72b36c"></i><i style="flex:0.88;background:#4a7bbd"></i></b><span>KTo</span></div>
<div class="c" style="left:510.2px;top:273.6px"><b class="f" style="height:5.0px"><i style="flex:1;background:#4a7bbd"></i></b><span>QTo</span></div>
<div class="c" style="left:556.9px;top:273.6px"><b class="f" style="height:18.0px"><i style="flex:0.24;background:#72b36c"></i><i style="flex:0.76;background:#4a7bbd"></i></b><span>JTo</span></div>
<div class="c" style="left:603.7px;top:273.6px"><span>TT</span></div>
<div class="c" style="left:650.4px;top:273.6px"><span>T9s</span></div>
<div class="c" style="left:697.1px;top:273.6px"><b class="f" style="height:5.5px"><i style="flex:0.18;background:#c4271d"></i><i style="flex:0.04;background:#72b36c"></i><i style="flex:0.78;background:#4a7bbd"></i></b><span>T8s</span></div>
<div class="c" style="left:743.9px;top:273.6px"><b class="f" style="height:22.0px"><i style="flex:0.35;background:#72b36c"></i><i style="flex:0.65;background:#4a7bbd"></i></b><span>T7s</span></div>
<div class="c" style="left:790.6px;top:273.6px"><span>T6s</span></div>
<div class="c" style="left:837.4px;top:273.6px"><span>T5s</span></div>
<div class="c" style="left:884.1px;top:273.6px"><span>T4s</span></div>
<div class="c" style="left:930.8px;top:273.6px"><span>T3s</span></div>
<div class="c" style="left:977.6px;top:273.6px"><span>T2s</span></div>
<div class="c" style="left:416.7px;top:307.0px"><b class="f" style="height:8.0px"><i style="flex:1;background:#72b36c"></i></b><span>A9o</span></div>
<div class="c" style="left:463.4px;top:307.0px"><b class="f" style="height:1.0px"><i style="flex:1;background:#4a7bbd"></i></b><span>K9o</span></div>
<div class="c" style="left:510.2px;top:307.0px"><span>Q9o</span></div>
<div class="c" style="left:556.9px;top:307.0px"><b class="f" style="height:4.5px"><i style="flex:0.05;background:#c4271d"></i><i style="flex:0.35;background:#72b36c"></i><i style="flex:0.6;background:#4a7bbd"></i></b><span>J9o</span></div>
<div class="c" style="left:603.7px;top:307.0px"><b class="f" style="height:16.5px"><i style="flex:1;background:#4a7bbd"></i></b><span>T9o</span></div>
<div class="c" style="left:650.4px;top:307.0px"><b class="f" style="height:19.5px"><i style="flex:1;background:#4a7bbd"></i></b><span>99</span></div>
<div class="c" style="left:697.1px;top:307.0px"><b class="f" style="height:2.0px"><i style="flex:0.1;background:#c4271d"></i><i style="flex:0.9;background:#4a7bbd"></i></b><span>98s</span></div>
<div class="c" style="left:743.9px;top:307.0px"><b class="f" style="height:29.0px"><i style="flex:0.35;background:#72b36c"></i><i style="flex:0.65;background:#4a7bbd"></i></b><span>97s</span></div>
<div class="c" style="left:790.6px;top:307.0px"><b class="f" style="height:13.4px"><i style="flex:0.08;background:#c4271d"></i><i style="flex:0.1;background:#72b36c"></i><i style="flex:0.82;background:#4a7bbd"></i></b><span>96s</span></div>
<div class="c" style="left:837.4px;top:307.0px"><span>95s</span></div>
<div class="c" style="left:884.1px;top:307.0px"><span>94s</span></div>
<div class="c" style="left:930.8px;top:307.0px"><span>93s</span></div>
<div class="c" style="left:977.6px;top:307.0px"><span>92s</span></div>
<div class="c" style="left:416.7px;top:340.4px"><b class="f" style="height:5.0px"><i style="flex:1;background:#72b36c"></i></b><span>A8o</span></div>
<div class="c" style="left:463.4px;top:340.4px"><span>K8o</span></div>
<div class="c" style="left:510.2px;top:340.4px"><span>Q8o</span></div>
<div class="c" style="left:556.9px;top:340.4px"><span>J8o</span></div>
<div class="c" style="left:603.7px;top:340.4px"><span>T8o</span></div>
<div class="c" style="left:650.4px;top:340.4px"><span>98o</span></div>
<div class="c" style="left:697.1px;top:340.4px"><b class="f" style="height:15.5px"><i style="flex:0.1;background:#72b36c"></i><i style="flex:0.9;background:#4a7bbd"></i></b><span>88</span></div>
<div class="c" style="left:743.9px;top:340.4px"><b class="f" style="height:15.8px"><i style="flex:0.37;background:#72b36c"></i><i style="flex:0.63;background:#4a7bbd"></i></b><span>87s</span></div>
<div class="c" style="left:790.6px;top:340.4px"><b class="f" style="height:10.0px"><i style="flex:0.22;background:#c4271d"></i><i style="flex:0.06;background:#e04a45"></i><i style="flex:0.25;background:#72b36c"></i><i style="flex:0.47;background:#4a7bbd"></i></b><span>86s</span></div>
<div class="c" style="left:837.4px;top:340.4px"><b class="f" style="height:30.0px"><i style="flex:0.03;background:#72b36c"></i><i style="flex:0.97;background:#4a7bbd"></i></b><span>85s</span></div>
<div class="c" style="left:884.1px;top:340.4px"><span>84s</span></div>
<div class="c" style="left:930.8px;top:340.4px"><span>83s</span></div>
<div class="c" style="left:977.6px;top:340.4px"><span>82s</span></div>
<div class="c" style="left:416.7px;top:373.8px"><b class="f" style="height:28.4px"><i style="flex:0.12;background:#c4271d"></i><i style="flex:0.88;background:#72b36c"></i></b><span>A7o</span></div>
<div class="c" style="left:463.4px;top:373.8px"><span>K7o</span></div>
<div class="c" style="left:510.2px;top:373.8px"><span>Q7o</span></div>
<div class="c" style="left:556.9px;top:373.8px"><span>J7o</span></div>
<div class="c" style="left:603.7px;top:373.8px"><span>T7o</span></div>
<div class="c" style="left:650.4px;top:373.8px"><span>97o</span></div>
<div class="c" style="left:697.1px;top:373.8px"><span>87o</span></div>
<div class="c" style="left:743.9px;top:373.8px"><b class="f" style="height:8.0px"><i style="flex:0.85;background:#c4271d"></i><i style="flex:0.15;background:#e04a45"></i></b><span>77</span></div>
<div class="c" style="left:790.6px;top:373.8px"><span>76s</span></div>
<div class="c" style="left:837.4px;top:373.8px"><b class="f" style="height:2.0px"><i style="flex:1;background:#72b36c"></i></b><span>75s</span></div>
<div class="c" style="left:884.1px;top:373.8px"><b class="f" style="height:20.5px"><i style="flex:0.03;background:#c4271d"></i><i style="flex:0.35;background:#72b36c"></i><i style="flex:0.62;background:#4a7bbd"></i></b><span>74s</span></div>
<div class="c" style="left:930.8px;top:373.8px"><span>73s</span></div>
<div class="c" style="left:977.6px;top:373.8px"><span>72s</span></div>
<div class="c" style="left:416.7px;top:407.3px"><span>A6o</span></div>
<div class="c" style="left:463.4px;top:407.3px"><span>K6o</span></div>
<div class="c" style="left:510.2px;top:407.3px"><span>Q6o</span></div>
<div class="c" style="left:556.9px;top:407.3px"><span>J6o</span></div>
<div class="c" style="left:603.7px;top:407.3px"><span>T6o</span></div>
<div class="c" style="left:650.4px;top:407.3px"><span>96o</span></div>
<div class="c" style="left:697.1px;top:407.3px"><span>86o</span></div>
<div class="c" style="left:743.9px;top:407.3px"><span>76o</span></div>
<div class="c" style="left:790.6px;top:407.3px"><b class="f" style="height:17.0px"><i style="flex:0.02;background:#72b36c"></i><i style="flex:0.98;background:#4a7bbd"></i></b><span>66</span></div>
<div class="c" style="left:837.4px;top:407.3px"><b class="f" style="height:15.0px"><i style="flex:0.03;background:#72b36c"></i><i style="flex:0.97;background:#4a7bbd"></i></b><span>65s</span></div>
<div class="c" style="left:884.1px;top:407.3px"><b class="f" style="height:4.5px"><i style="flex:0.38;background:#c4271d"></i><i style="flex:0.08;background:#e04a45"></i><i style="flex:0.36;background:#72b36c"></i><i style="flex:0.18;background:#4a7bbd"></i></b><span>64s</span></div>
<div class="c" style="left:930.8px;top:407.3px"><b class="f" style="height:13.3px"><i style="flex:0.12;background:#c4271d"></i><i style="flex:0.05;background:#e04a45"></i><i style="flex:0.04;background:#72b36c"></i><i style="flex:0.79;background:#4a7bbd"></i></b><span>63s</span></div>
<div class="c" style="left:977.6px;top:407.3px"><span>62s</span></div>
<div class="c" style="left:416.7px;top:440.7px"><b class="f" style="height:12.8px"><i style="flex:1;background:#72b36c"></i></b><span>A5o</span></div>
<div class="c" style="left:463.4px;top:440.7px"><span>K5o</span></div>
<div class="c" style="left:510.2px;top:440.7px"><span>Q5o</span></div>
<div class="c" style="left:556.9px;top:440.7px"><span>J5o</span></div>
<div class="c" style="left:603.7px;top:440.7px"><span>T5o</span></div>
<div class="c" style="left:650.4px;top:440.7px"><span>95o</span></div>
<div class="c" style="left:697.1px;top:440.7px"><span>85o</span></div>
<div class="c" style="left:743.9px;top:440.7px"><span>75o</span></div>
<div class="c" style="left:790.6px;top:440.7px"><span>65o</span></div>
<div class="c" style="left:837.4px;top:440.7px"><b class="f" style="height:3.0px"><i style="flex:0.75;background:#c4271d"></i><i style="flex:0.25;background:#e04a45"></i></b><span>55</span></div>
<div class="c" style="left:884.1px;top:440.7px"><b class="f" style="height:7.3px"><i style="flex:0.25;background:#72b36c"></i><i style="flex:0.75;background:#4a7bbd"></i></b><span>54s</span></div>
<div class="c" style="left:930.8px;top:440.7px"><b class="f" style="height:21.0px"><i style="flex:0.28;background:#72b36c"></i><i style="flex:0.72;background:#4a7bbd"></i></b><span>53s</span></div>
<div class="c" style="left:977.6px;top:440.7px"><span>52s</span></div>
<div class="c" style="left:416.7px;top:474.1px"><span>A4o</span></div>
<div class="c" style="left:463.4px;top:474.1px"><span>K4o</span></div>
<div class="c" style="left:510.2px;top:474.1px"><span>Q4o</span></div>
<div class="c" style="left:556.9px;top:474.1px"><span>J4o</span></div>
<div class="c" style="left:603.7px;top:474.1px"><span>T4o</span></div>
<div class="c" style="left:650.4px;top:474.1px"><span>94o</span></div>
<div class="c" style="left:697.1px;top:474.1px"><span>84o</span></div>
<div class="c" style="left:743.9px;top:474.1px"><span>74o</span></div>
<div class="c" style="left:790.6px;top:474.1px"><span>64o</span></div>
<div class="c" style="left:837.4px;top:474.1px"><span>54o</span></div>
<div class="c" style="left:884.1px;top:474.1px"><b class="f" style="height:31.1px"><i style="flex:1;background:#4a7bbd"></i></b><span>44</span></div>
<div class="c" style="left:930.8px;top:474.1px"><b class="f" style="height:21.6px"><i style="flex:0.205;background:#c4271d"></i><i style="flex:0.035;background:#e04a45"></i><i style="flex:0.61;background:#72b36c"></i><i style="flex:0.15;background:#4a7bbd"></i></b><span>43s</span></div>
<div class="c" style="left:977.6px;top:474.1px"><span>42s</span></div>
<div class="c" style="left:416.7px;top:507.5px"><span>A3o</span></div>
<div class="c" style="left:463.4px;top:507.5px"><span>K3o</span></div>
<div class="c" style="left:510.2px;top:507.5px"><span>Q3o</span></div>
<div class="c" style="left:556.9px;top:507.5px"><span>J3o</span></div>
<div class="c" style="left:603.7px;top:507.5px"><span>T3o</span></div>
<div class="c" style="left:650.4px;top:507.5px"><span>93o</span></div>
<div class="c" style="left:697.1px;top:507.5px"><span>83o</span></div>
<div class="c" style="left:743.9px;top:507.5px"><span>73o</span></div>
<div class="c" style="left:790.6px;top:507.5px"><span>63o</span></div>
<div class="c" style="left:837.4px;top:507.5px"><span>53o</span></div>
<div class="c" style="left:884.1px;top:507.5px"><span>43o</span></div>
<div class="c" style="left:930.8px;top:507.5px"><b class="f" style="height:31.1px"><i style="flex:1;background:#4a7bbd"></i></b><span>33</span></div>
<div class="c" style="left:977.6px;top:507.5px"><span>32s</span></div>
<div class="c" style="left:416.7px;top:540.9px"><span>A2o</span></div>
<div class="c" style="left:463.4px;top:540.9px"><span>K2o</span></div>
<div class="c" style="left:510.2px;top:540.9px"><span>Q2o</span></div>
<div class="c" style="left:556.9px;top:540.9px"><span>J2o</span></div>
<div class="c" style="left:603.7px;top:540.9px"><span>T2o</span></div>
<div class="c" style="left:650.4px;top:540.9px"><span>92o</span></div>
<div class="c" style="left:697.1px;top:540.9px"><span>82o</span></div>
<div class="c" style="left:743.9px;top:540.9px"><span>72o</span></div>
<div class="c" style="left:790.6px;top:540.9px"><span>62o</span></div>
<div class="c" style="left:837.4px;top:540.9px"><span>52o</span></div>
<div class="c" style="left:884.1px;top:540.9px"><span>42o</span></div>
<div class="c" style="left:930.8px;top:540.9px"><span>32o</span></div>
<div class="c" style="left:977.6px;top:540.9px"><b class="f" style="height:31.1px"><i style="flex:1;background:#4a7bbd"></i></b><span>22</span></div>
</div>
</body></html>
